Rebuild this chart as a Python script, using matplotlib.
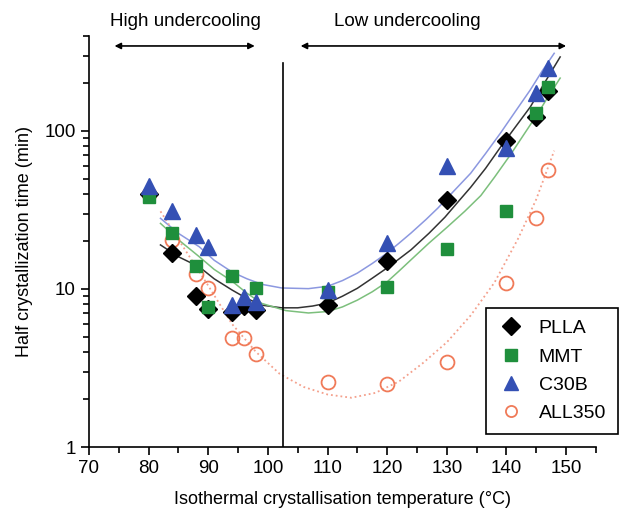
import numpy as np
import matplotlib.pyplot as plt
from matplotlib.lines import Line2D

plt.rcParams['font.family'] = ['Liberation Sans', 'DejaVu Sans']

# measured half crystallisation times (min)
T_PLLA = [80, 84, 88, 90, 94, 96, 98, 110, 120, 130, 140, 145, 147]
t_PLLA = [40, 17, 9.0, 7.5, 7.1, 7.8, 7.4, 7.9, 15, 36.5, 86, 122, 178]

T_MMT = [80, 84, 88, 90, 94, 98, 110, 120, 130, 140, 145, 147]
t_MMT = [38, 22.5, 14, 7.7, 12.1, 10.1, 9.6, 10.3, 18, 31, 130, 190]

T_C30B = [80, 84, 88, 90, 94, 96, 98, 110, 120, 130, 140, 145, 147]
t_C30B = [45, 31, 22, 18.5, 7.9, 8.9, 8.3, 9.8, 19.6, 60, 78, 175, 250]

T_ALL = [80, 84, 88, 90, 94, 96, 98, 110, 120, 130, 140, 145, 147]
t_ALL = [40, 20.5, 12.4, 10.1, 4.9, 4.9, 3.9, 2.58, 2.5, 3.45, 10.9, 28, 57]

# fitted curves
fitT_PLLA = [82, 85, 88.5, 91, 94, 96.5, 99, 102.3, 105, 107.5, 110, 112.5, 115, 117.5, 120, 122, 124,
             127, 129.7, 132, 134, 136.5, 139, 141.5, 144, 146.5, 149]
fit_PLLA = [19, 16, 13.8, 11.6, 9.85, 8.7, 7.9, 7.6, 7.6, 7.8, 8.15, 9.0, 10.1, 11.7, 13.6, 15.5, 17.7,
            22.5, 28.5, 36, 44, 58, 79, 106, 142, 205, 294]

fitT_MMT = [82, 85, 88.5, 91, 94, 96.5, 99, 103, 106.8, 110, 112.5, 115, 117.5, 120, 122, 124, 127, 130,
            133, 135.7, 138, 140.7, 143, 145.2, 147, 149]
fit_MMT = [26, 20.5, 16, 13.3, 11.2, 9.4, 8.1, 7.3, 7.05, 7.2, 7.7, 8.5, 9.6, 11.1, 13.0, 15.3, 19.5, 24.5,
           31, 39, 51, 71, 96, 128, 165, 216]

fitT_C30B = [82, 85, 88.5, 91, 94, 96.5, 99, 102.3, 106.8, 110, 112.5, 115, 117.5, 120, 122, 124, 126.5,
             128.5, 131, 134, 136.5, 139, 141.5, 144, 146, 148]
fit_C30B = [28, 22.5, 18.5, 15.2, 12.8, 11.6, 10.7, 10.15, 10.05, 10.4, 11.3, 12.6, 14.5, 16.9, 19.5, 22.6,
            27.5, 32.5, 41, 54, 72, 97, 133, 182, 240, 310]

fitT_ALL = [82, 86, 90, 94, 98, 102, 106, 110, 114, 118, 122, 126, 130, 134, 138, 142, 145, 148]
fit_ALL = [31, 18, 10.5, 6.0, 4.0, 2.9, 2.4, 2.15, 2.05, 2.2, 2.6, 3.4, 4.6, 6.8, 11, 21, 37, 75]

fig = plt.figure(figsize=(6.26, 5.19), dpi=100)
ax = fig.add_axes([0.142, 0.1387, 0.81, 0.7923])

ax.plot(fitT_C30B, fit_C30B, color='#8c98e0', lw=1.1)
ax.plot(fitT_PLLA, fit_PLLA, color='#333333', lw=1.1)
ax.plot(fitT_MMT, fit_MMT, color='#7cbf7c', lw=1.1)
ax.plot(fitT_ALL, fit_ALL, color='#f4a08c', lw=1.3, ls=':')

ax.plot(T_ALL, t_ALL, 'o', ms=10, mfc='none', mec='#f07a58', mew=1.3)
ax.plot(T_PLLA, t_PLLA, 'D', ms=9.5, color='black')
ax.plot(T_MMT, t_MMT, 's', ms=9, color='#1f8f3c')
ax.plot(T_C30B, t_C30B, '^', ms=11.5, color='#3450b4')

ax.set_yscale('log')
ax.set_xlim(70, 155)
ax.set_ylim(1, 400)
ax.set_xticks(np.arange(70, 151, 10))
ax.set_xticks(np.arange(75, 156, 10), minor=True)
ax.set_yticks([1, 10, 100])
ax.set_yticklabels(['1', '10', '100'])
ax.tick_params(which='major', direction='out', length=6, width=1.2, labelsize=13.5)
ax.tick_params(which='minor', direction='out', length=4, width=1.2)
for s in ['top', 'right']:
    ax.spines[s].set_visible(False)
for s in ['left', 'bottom']:
    ax.spines[s].set_linewidth(1.2)

ax.set_xlabel('Isothermal crystallisation temperature (°C)', fontsize=13, labelpad=10)
ax.set_ylabel('Half crystallization time (min)', fontsize=13, labelpad=8)

ax.plot([102.5, 102.5], [1, 270], color='black', lw=1.2)

arrow = dict(arrowstyle='<|-|>', color='black', lw=1.2, mutation_scale=9, shrinkA=0, shrinkB=0)
ax.annotate('', xy=(97.8, 345), xytext=(74.3, 345), arrowprops=arrow)
ax.annotate('', xy=(150, 345), xytext=(105.5, 345), arrowprops=arrow)
fig.text(185 / 626, 1 - 22 / 519, 'High undercooling', fontsize=13.5, ha='center', va='center')
fig.text(407 / 626, 1 - 22 / 519, 'Low undercooling', fontsize=13.5, ha='center', va='center')

handles = [
    Line2D([], [], marker='D', ls='none', ms=9.5, color='black'),
    Line2D([], [], marker='s', ls='none', ms=8, color='#1f8f3c'),
    Line2D([], [], marker='^', ls='none', ms=10, color='#3450b4'),
    Line2D([], [], marker='o', ls='none', ms=8, mfc='none', mec='#f07a58', mew=1.3),
]
leg = fig.legend(handles, ['PLLA', 'MMT', 'C30B', 'ALL350'], loc='upper left',
                 bbox_to_anchor=(486 / 626, 1 - 308 / 519), fontsize=14,
                 frameon=True, fancybox=False, edgecolor='black', framealpha=1,
                 borderpad=0.6, labelspacing=0.55, handletextpad=0.7, handlelength=1.4,
                 borderaxespad=0)
leg.get_frame().set_linewidth(1.2)

fig.savefig('out.png', dpi=100)
